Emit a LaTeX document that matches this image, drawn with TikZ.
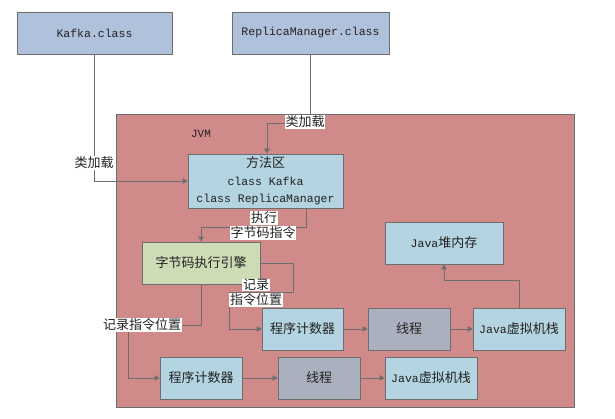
\documentclass[tikz,border=0pt]{standalone}
\usepackage{fontspec}
\setmainfont{Liberation Mono}
\newfontfamily\cjk{Noto Sans CJK SC}
\usetikzlibrary{arrows.meta,shadows}
\definecolor{topblue}{HTML}{B0C1DC}
\definecolor{lblue}{HTML}{B3D4E0}
\definecolor{lgreen}{HTML}{CEDCB5}
\definecolor{tgray}{HTML}{AAB0BD}
\definecolor{jvmred}{HTML}{D08A89}
\definecolor{edge}{HTML}{6E6E6E}
\definecolor{txt}{HTML}{222222}
\newcommand{\zh}[1]{{\cjk\fontsize{13}{15}\selectfont #1}}
\tikzset{
  box/.style={draw=edge, line width=0.8pt, rectangle, inner sep=0pt, text=txt,
    align=center, font=\fontsize{11.5}{17.5}\selectfont,
    drop shadow={shadow xshift=1.2pt, shadow yshift=-1.2pt, opacity=0.25}},
  lbl/.style={fill=white, inner sep=0.6pt, text=txt, font=\cjk\fontsize{13}{15}\selectfont},
  conn/.style={draw=edge, line width=0.8pt},
  arr/.style={conn, -{Triangle[width=5.5pt,length=5pt]}}
}
\begin{document}
\begin{tikzpicture}[x=1pt,y=-1pt]
\useasboundingbox (0,0) rectangle (615,419);
\fill[white] (0,0) rectangle (615,419);
% JVM area
\node[box, fill=jvmred, minimum width=458pt, minimum height=293pt] (jvm) at (345,260.5) {};
\node[text=txt, font=\fontsize{11}{12}\selectfont] (jvmlbl) at (201,134) {JVM};
% top classes
\node[box, fill=topblue, minimum width=155pt, minimum height=42pt] (kafka) at (94.5,33) {Kafka.class};
\node[box, fill=topblue, minimum width=157pt, minimum height=42pt] (rm) at (310.5,33) {ReplicaManager.class};
% inside JVM
\node[box, fill=lblue, minimum width=155pt, minimum height=54pt] (mfq) at (265.5,181)
  {\zh{方法区}\\class Kafka\\class ReplicaManager};
\node[box, fill=lgreen, minimum width=118pt, minimum height=42pt] (engine) at (201,263) {\zh{字节码执行引擎}};
\node[box, fill=lblue, minimum width=118pt, minimum height=42pt] (heap) at (444,243) {Java\zh{堆内存}};
\node[box, fill=lblue, minimum width=81pt, minimum height=42pt] (pc1) at (302.5,329) {\zh{程序计数器}};
\node[box, fill=tgray, minimum width=82pt, minimum height=42pt] (th1) at (409,329) {\zh{线程}};
\node[box, fill=lblue, minimum width=92pt, minimum height=42pt] (stk1) at (519,329) {Java\zh{虚拟机栈}};
\node[box, fill=lblue, minimum width=82pt, minimum height=42pt] (pc2) at (201,378) {\zh{程序计数器}};
\node[box, fill=tgray, minimum width=82pt, minimum height=42pt] (th2) at (319,378) {\zh{线程}};
\node[box, fill=lblue, minimum width=92pt, minimum height=42pt] (stk2) at (431,378) {Java\zh{虚拟机栈}};
% helper coordinates
\coordinate (c1) at (267,123);
\coordinate (c2) at (306,227);
\coordinate (c3a) at (293,263);
\coordinate (c3b) at (293,292);
\coordinate (c3c) at (229,292);
\coordinate (c4) at (128,325);
\coordinate (c5) at (444,280);
% connectors
\draw[arr] (kafka.south) |- (mfq.west);
\draw[arr] (rm.south) |- (c1) -- (c1 |- mfq.north);
\draw[arr] (mfq.south -| c2) -- (c2) -| (engine.north);
\draw[arr] (engine.east) -- (c3a) -- (c3b) -- (c3c) |- (pc1.west);
\draw[arr] (engine.south) |- (c4) |- (pc2.west);
\draw[arr] (pc1) -- (th1);
\draw[arr] (th1) -- (stk1);
\draw[arr] (pc2) -- (th2);
\draw[arr] (th2) -- (stk2);
\draw[arr] (stk1.north) |- (c5) -- (heap.south);
% labels
\node[lbl] (l1) at (94,163) {类加载};
\node[lbl] (l2) at (305,122) {类加载};
\node[lbl] (l3a) at (264,218) {执行};
\node[lbl] (l3b) at (263,233) {字节码指令};
\node[lbl] (l4a) at (256,285) {记录};
\node[lbl] (l4b) at (256,300) {指令位置};
\node[lbl] (l5) at (142,325) {记录指令位置};
\end{tikzpicture}
\end{document}
